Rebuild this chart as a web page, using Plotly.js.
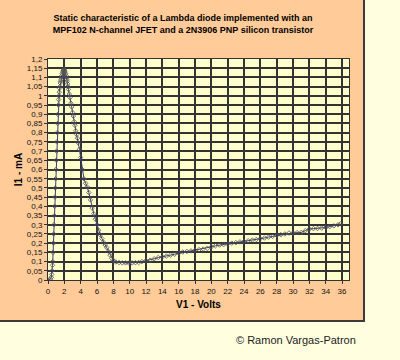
<!DOCTYPE html>
<html>
<head>
<meta charset="utf-8">
<script src="https://cdn.plot.ly/plotly-3.0.1.min.js"></script>
<style>
  html, body { margin: 0; padding: 0; background: #FFFFE0; width: 400px; height: 360px; overflow: hidden; }
  #panel { position: absolute; left: 0; top: 0; width: 363px; height: 320px; background: #FFCC99; border-right: 2px solid #3a3a3a; border-bottom: 2px solid #3a3a3a; }
  #chart { position: absolute; left: 0; top: 0; width: 400px; height: 360px; }
</style>
</head>
<body>
<div id="panel"></div>
<div id="chart"></div>
<script>
// Voltage V1 (volts)
const voltsV1 = [
  0, 0.3, 0.4, 0.45, 0.5, 0.55, 0.58, 0.62, 0.66, 0.7, 0.73, 0.77, 0.81, 0.85, 0.89, 0.93, 0.97,
  1.01, 1.05, 1.09, 1.13, 1.17, 1.21, 1.26, 1.3, 1.34, 1.38, 1.42, 1.46, 1.5, 1.55, 1.6, 1.65,
  1.7, 1.75, 1.8, 1.85, 1.9, 1.95, 2.0,
  2.05, 2.1, 2.15, 2.2, 2.25, 2.3, 2.35, 2.4, 2.45, 2.5, 2.6, 2.7, 2.8, 2.9, 3.0, 3.1, 3.2, 3.3,
  3.4, 3.5, 3.6, 3.7, 3.85, 4.0, 4.2, 4.4, 4.6, 4.8, 5.0, 5.2, 5.4, 5.6, 5.8, 6.0, 6.2, 6.4, 6.6,
  6.8, 7.0, 7.2, 7.4, 7.6, 7.8, 8.0, 8.3, 8.7, 9.1, 9.5, 9.9, 10.3, 10.7, 11.1, 11.5, 12.0, 12.5,
  13.0, 13.5, 14.0, 14.5, 15.0, 15.5, 16.0, 16.5, 17.0, 17.5, 18.0, 18.5, 19.0, 19.5, 20.0, 20.5,
  21.0, 21.5, 22.0, 22.5, 23.0, 23.5, 24.0, 24.5, 25.0, 25.5, 26.0, 26.5, 27.0, 27.5, 28.0, 28.5,
  29.0, 29.5, 30.0, 30.5, 31.0, 31.5, 32.0, 32.5, 33.0, 33.5, 34.0, 34.5, 35.0, 35.5, 35.8
];
// Current I1 (mA)
const currentI1 = [
  0, 0.005, 0.015, 0.03, 0.05, 0.08, 0.1, 0.15, 0.2, 0.25, 0.3, 0.35, 0.4, 0.45, 0.5, 0.55, 0.6,
  0.65, 0.7, 0.75, 0.8, 0.85, 0.9, 0.95, 0.98, 1.0, 1.02, 1.04, 1.05, 1.07, 1.08, 1.09, 1.1,
  1.11, 1.12, 1.13, 1.135, 1.14, 1.14, 1.142,
  1.135, 1.13, 1.12, 1.11, 1.1, 1.09, 1.08, 1.065, 1.05, 1.035, 1.01, 0.99, 0.96, 0.94, 0.91, 0.89, 0.86, 0.84,
  0.81, 0.79, 0.77, 0.745, 0.71, 0.665, 0.6, 0.55, 0.525, 0.505, 0.475, 0.435, 0.39, 0.36, 0.33, 0.3, 0.27, 0.245, 0.225,
  0.205, 0.19, 0.175, 0.155, 0.135, 0.118, 0.105, 0.098, 0.095, 0.093, 0.093, 0.092, 0.093, 0.094, 0.095, 0.1, 0.105, 0.108,
  0.115, 0.122, 0.125, 0.13, 0.135, 0.14, 0.146, 0.152, 0.155, 0.158, 0.162, 0.165, 0.168, 0.172, 0.18, 0.186,
  0.19, 0.192, 0.196, 0.2, 0.203, 0.207, 0.21, 0.213, 0.217, 0.22, 0.224, 0.228, 0.233, 0.237, 0.242, 0.246,
  0.25, 0.255, 0.256, 0.257, 0.258, 0.268, 0.277, 0.279, 0.28, 0.282, 0.285, 0.29, 0.294, 0.3, 0.305
];
const xTickVals = [0, 2, 4, 6, 8, 10, 12, 14, 16, 18, 20, 22, 24, 26, 28, 30, 32, 34, 36];
const xTickText = ["0", "2", "4", "6", "8", "10", "12", "14", "16", "18", "20", "22", "24", "26", "28", "30", "32", "34", "36"];
const yTickVals = [0, 0.05, 0.1, 0.15, 0.2, 0.25, 0.3, 0.35, 0.4, 0.45, 0.5, 0.55, 0.6, 0.65, 0.7, 0.75, 0.8, 0.85, 0.9, 0.95, 1, 1.05, 1.1, 1.15, 1.2];
const yTickText = ["0", "0,05", "0,1", "0,15", "0,2", "0,25", "0,3", "0,35", "0,4", "0,45", "0,5", "0,55", "0,6", "0,65", "0,7", "0,75", "0,8", "0,85", "0,9", "0,95", "1", "1,05", "1,1", "1,15", "1,2"];

const trace = {
  x: voltsV1, y: currentI1, type: 'scatter', mode: 'lines+markers',
  line: { color: '#3a3a7a', width: 1 },
  marker: { symbol: 'diamond-open', size: 3.5, color: '#555555', line: { width: 0.8, color: '#555555' } },
  hoverinfo: 'x+y'
};

const tickFont = { family: 'Liberation Sans, Arial, sans-serif', size: 8, color: '#111' };
const layout = {
  width: 400, height: 360,
  margin: { l: 48, r: 51, t: 59, b: 80, pad: 0 },
  paper_bgcolor: 'rgba(0,0,0,0)',
  plot_bgcolor: '#FFFFCC',
  showlegend: false,
  title: {
    text: 'Static characteristic of a Lambda diode implemented with an<br>MPF102 N-channel JFET and a 2N3906 PNP silicon transistor',
    font: { family: 'Liberation Sans, Arial, sans-serif', size: 9, color: '#000', weight: 'bold' },
    x: 183 / 400, xref: 'container', xanchor: 'center',
    y: 1 - 21 / 360, yref: 'container', yanchor: 'top'
  },
  xaxis: {
    range: [0, 36.85], tickvals: xTickVals, ticktext: xTickText, tickfont: tickFont,
    showgrid: true, gridcolor: '#333333', gridwidth: 2,
    showline: true, linecolor: '#333333', linewidth: 1, mirror: true,
    ticks: 'outside', ticklen: 3, tickcolor: '#333', zeroline: false,
    title: { text: 'V1 - Volts', font: { family: 'Liberation Sans, Arial, sans-serif', size: 10, color: '#000', weight: 'bold' }, standoff: 6 }
  },
  yaxis: {
    range: [0, 1.2], tickvals: yTickVals, ticktext: yTickText, tickfont: tickFont,
    showgrid: true, gridcolor: '#333333', gridwidth: 2,
    showline: true, linecolor: '#333333', linewidth: 1, mirror: true,
    ticks: 'outside', ticklen: 3, tickcolor: '#333', zeroline: false,
    title: { text: 'I1 - mA', font: { family: 'Liberation Sans, Arial, sans-serif', size: 10, color: '#000', weight: 'bold' }, standoff: 2 }
  },
  annotations: [{
    text: '© Ramon Vargas-Patron', xref: 'paper', yref: 'paper',
    x: (358 - 48) / 301, y: -(340 - 280) / 221, xanchor: 'right', yanchor: 'middle',
    showarrow: false, font: { family: 'Liberation Sans, Arial, sans-serif', size: 11, color: '#222' }
  }]
};

Plotly.newPlot('chart', [trace], layout, { displayModeBar: false, staticPlot: true });
</script>
</body>
</html>
